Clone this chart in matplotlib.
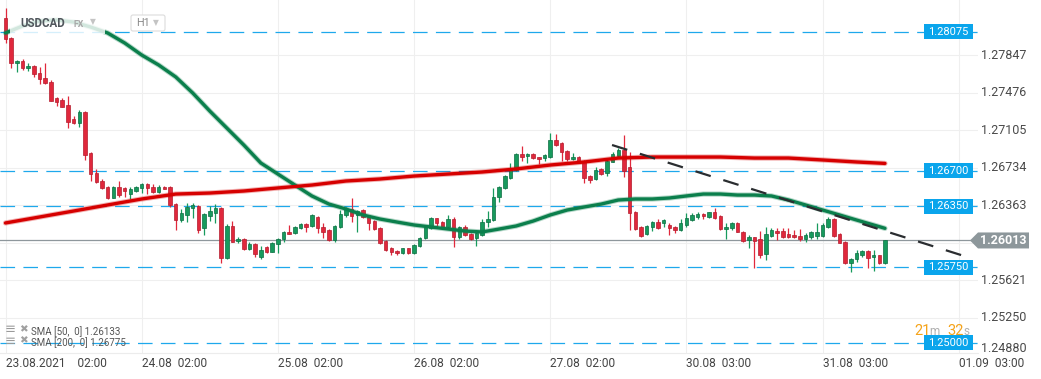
import numpy as np
import matplotlib.pyplot as plt
from matplotlib.patches import Rectangle, Polygon, FancyBboxPatch
from matplotlib.transforms import Affine2D, blended_transform_factory

plt.rcParams['font.family'] = ['Roboto', 'DejaVu Sans']
plt.rcParams['lines.scale_dashes'] = False

# hourly candles USDCAD, 23.08.2021 02:00 onwards
opens = [1.28213, 1.28015, 1.27768, 1.27788, 1.27719, 1.27738, 1.27669, 1.27620, 1.27580, 1.27422,
         1.27402, 1.27353, 1.27214, 1.27174, 1.27283, 1.26878, 1.26680, 1.26601, 1.26542, 1.26433,
         1.26542, 1.26532, 1.26472, 1.26502, 1.26532, 1.26571, 1.26542, 1.26492, 1.26542, 1.26542,
         1.26373, 1.26215, 1.26265, 1.26334, 1.26354, 1.26136, 1.26255, 1.26284, 1.26334, 1.25839,
         1.26156, 1.26008, 1.26027, 1.25928, 1.25978, 1.25849, 1.25948, 1.25899, 1.25978, 1.26027,
         1.26097, 1.26087, 1.26136, 1.26176, 1.26156, 1.26245, 1.26146, 1.26116, 1.26017, 1.26146,
         1.26265, 1.26324, 1.26265, 1.26314, 1.26245, 1.26205, 1.26136, 1.26008, 1.25938, 1.25909,
         1.25889, 1.25938, 1.25889, 1.25958, 1.26037, 1.26136, 1.26235, 1.26195, 1.26146, 1.26225,
         1.26047, 1.26146, 1.26077, 1.26037, 1.26067, 1.26195, 1.26215, 1.26443, 1.26532, 1.26631,
         1.26710, 1.26868, 1.26848, 1.26868, 1.26838, 1.26828, 1.26838, 1.27006, 1.26977, 1.26898,
         1.26818, 1.26838, 1.26789, 1.26650, 1.26621, 1.26720, 1.26680, 1.26789, 1.26848, 1.26908,
         1.26739, 1.26294, 1.26146, 1.26077, 1.26146, 1.26195, 1.26186, 1.26166, 1.26146, 1.26116,
         1.26166, 1.26215, 1.26245, 1.26275, 1.26245, 1.26294, 1.26255, 1.26126, 1.26136, 1.26186,
         1.26097, 1.26017, 1.26047, 1.26027, 1.25879, 1.26057, 1.26106, 1.26106, 1.26077, 1.26067,
         1.26057, 1.26027, 1.26047, 1.26057, 1.26057, 1.26146, 1.26225, 1.26077, 1.25998, 1.25790,
         1.25830, 1.25869, 1.25909, 1.25849, 1.25869, 1.25790]
highs = [1.28312, 1.28025, 1.27798, 1.27808, 1.27768, 1.27748, 1.27728, 1.27768, 1.27600, 1.27432,
         1.27422, 1.27442, 1.27244, 1.27303, 1.27293, 1.26888, 1.26720, 1.26621, 1.26552, 1.26547,
         1.26601, 1.26542, 1.26542, 1.26552, 1.26581, 1.26581, 1.26571, 1.26561, 1.26552, 1.26552,
         1.26383, 1.26324, 1.26383, 1.26383, 1.26364, 1.26284, 1.26354, 1.26373, 1.26344, 1.26176,
         1.26205, 1.26047, 1.26037, 1.25998, 1.25983, 1.25958, 1.25958, 1.25993, 1.26037, 1.26102,
         1.26166, 1.26156, 1.26186, 1.26181, 1.26270, 1.26255, 1.26186, 1.26126, 1.26161, 1.26314,
         1.26344, 1.26433, 1.26314, 1.26324, 1.26265, 1.26215, 1.26146, 1.26013, 1.25948, 1.25919,
         1.25943, 1.25943, 1.25978, 1.26047, 1.26156, 1.26245, 1.26240, 1.26205, 1.26265, 1.26245,
         1.26156, 1.26166, 1.26087, 1.26106, 1.26225, 1.26304, 1.26532, 1.26552, 1.26660, 1.26779,
         1.26878, 1.26947, 1.26873, 1.26878, 1.26843, 1.26868, 1.27076, 1.27066, 1.26982, 1.26903,
         1.26878, 1.26848, 1.26809, 1.26660, 1.26739, 1.26730, 1.26828, 1.26888, 1.26927, 1.27056,
         1.26888, 1.26304, 1.26156, 1.26166, 1.26205, 1.26225, 1.26225, 1.26186, 1.26156, 1.26225,
         1.26284, 1.26284, 1.26294, 1.26284, 1.26299, 1.26334, 1.26265, 1.26186, 1.26195, 1.26191,
         1.26106, 1.26067, 1.26052, 1.26106, 1.26146, 1.26136, 1.26136, 1.26136, 1.26136, 1.26116,
         1.26126, 1.26087, 1.26102, 1.26186, 1.26186, 1.26245, 1.26235, 1.26087, 1.26003, 1.25839,
         1.25919, 1.25919, 1.25914, 1.25919, 1.25874, 1.26020]
lows = [1.27966, 1.27719, 1.27679, 1.27699, 1.27689, 1.27630, 1.27560, 1.27565, 1.27388, 1.27343,
        1.27328, 1.27125, 1.27165, 1.27135, 1.26809, 1.26601, 1.26586, 1.26522, 1.26423, 1.26428,
        1.26443, 1.26443, 1.26423, 1.26497, 1.26482, 1.26472, 1.26487, 1.26487, 1.26517, 1.26344,
        1.26116, 1.26195, 1.26195, 1.26235, 1.26087, 1.26067, 1.26205, 1.26186, 1.25790, 1.25834,
        1.25993, 1.25988, 1.25919, 1.25919, 1.25849, 1.25830, 1.25889, 1.25894, 1.25889, 1.25998,
        1.26072, 1.26077, 1.26126, 1.26097, 1.26146, 1.26087, 1.26037, 1.26012, 1.25998, 1.26141,
        1.26245, 1.26195, 1.26097, 1.26235, 1.26116, 1.26116, 1.25978, 1.25909, 1.25869, 1.25869,
        1.25879, 1.25879, 1.25879, 1.25948, 1.26027, 1.26126, 1.26156, 1.26126, 1.26136, 1.25948,
        1.26027, 1.26057, 1.26017, 1.25958, 1.26057, 1.26146, 1.26205, 1.26393, 1.26522, 1.26621,
        1.26700, 1.26799, 1.26779, 1.26818, 1.26769, 1.26799, 1.26833, 1.26947, 1.26799, 1.26799,
        1.26809, 1.26779, 1.26581, 1.26581, 1.26611, 1.26660, 1.26650, 1.26784, 1.26838, 1.26641,
        1.26116, 1.26116, 1.26047, 1.26067, 1.26106, 1.26126, 1.26146, 1.26067, 1.26087, 1.26106,
        1.26146, 1.26205, 1.26225, 1.26225, 1.26240, 1.26230, 1.26116, 1.26027, 1.26116, 1.26092,
        1.25998, 1.25938, 1.25741, 1.25839, 1.25820, 1.26047, 1.26017, 1.26042, 1.26042, 1.26042,
        1.26008, 1.25998, 1.26027, 1.26027, 1.26047, 1.26141, 1.26047, 1.25983, 1.25785, 1.25701,
        1.25800, 1.25849, 1.25741, 1.25711, 1.25780, 1.25785]
closes = [1.28005, 1.27768, 1.27788, 1.27719, 1.27738, 1.27659, 1.27610, 1.27570, 1.27392, 1.27382,
          1.27333, 1.27184, 1.27174, 1.27283, 1.26858, 1.26670, 1.26591, 1.26532, 1.26433, 1.26542,
          1.26462, 1.26502, 1.26522, 1.26542, 1.26571, 1.26532, 1.26492, 1.26542, 1.26522, 1.26364,
          1.26215, 1.26284, 1.26344, 1.26364, 1.26116, 1.26275, 1.26304, 1.26334, 1.25839, 1.26156,
          1.25998, 1.26027, 1.25928, 1.25978, 1.25879, 1.25919, 1.25899, 1.25988, 1.26027, 1.26097,
          1.26077, 1.26146, 1.26176, 1.26146, 1.26265, 1.26136, 1.26097, 1.26017, 1.26156, 1.26275,
          1.26324, 1.26255, 1.26304, 1.26245, 1.26186, 1.26126, 1.25988, 1.25919, 1.25899, 1.25889,
          1.25938, 1.25889, 1.25968, 1.26037, 1.26146, 1.26235, 1.26186, 1.26146, 1.26225, 1.26047,
          1.26146, 1.26067, 1.26027, 1.26087, 1.26195, 1.26225, 1.26443, 1.26542, 1.26650, 1.26710,
          1.26868, 1.26838, 1.26868, 1.26828, 1.26818, 1.26858, 1.27006, 1.26957, 1.26888, 1.26818,
          1.26838, 1.26789, 1.26631, 1.26611, 1.26710, 1.26670, 1.26799, 1.26868, 1.26908, 1.26700,
          1.26284, 1.26126, 1.26057, 1.26156, 1.26195, 1.26136, 1.26215, 1.26136, 1.26116, 1.26186,
          1.26235, 1.26265, 1.26275, 1.26255, 1.26294, 1.26235, 1.26126, 1.26146, 1.26186, 1.26097,
          1.26008, 1.26047, 1.26008, 1.25869, 1.26077, 1.26116, 1.26087, 1.26047, 1.26047, 1.26047,
          1.26027, 1.26067, 1.26097, 1.26097, 1.26166, 1.26225, 1.26057, 1.25988, 1.25790, 1.25830,
          1.25889, 1.25909, 1.25839, 1.25869, 1.25790, 1.26013]

# moving averages at these candle positions
sma50_idx = list(range(0, 154, 3)) + [155]
sma50 = [1.28065, 1.28134, 1.28183, 1.28193, 1.28173, 1.28124, 1.28065, 1.27966, 1.27847, 1.27748,
         1.27630, 1.27471, 1.27293, 1.27125, 1.26957, 1.26779, 1.26670, 1.26561, 1.26453, 1.26373,
         1.26324, 1.26265, 1.26225, 1.26195, 1.26166, 1.26146, 1.26126, 1.26106, 1.26097, 1.26126,
         1.26156, 1.26205, 1.26265, 1.26314, 1.26344, 1.26373, 1.26413, 1.26423, 1.26423, 1.26433,
         1.26453, 1.26472, 1.26472, 1.26462, 1.26462, 1.26453, 1.26413, 1.26364, 1.26314, 1.26265,
         1.26215, 1.26166, 1.26133]
sma200_idx = list(range(0, 151, 6)) + [155]
sma200 = [1.26186, 1.26245, 1.26304, 1.26364, 1.26423, 1.26472, 1.26482, 1.26502, 1.26532, 1.26561,
          1.26601, 1.26621, 1.26650, 1.26670, 1.26690, 1.26720, 1.26759, 1.26789, 1.26828, 1.26838,
          1.26838, 1.26838, 1.26828, 1.26828, 1.26809, 1.26789, 1.26775]

levels = [1.28075, 1.26700, 1.26350, 1.25750, 1.25000]
trend_x = [106.9, 170.1]
trend_y = [1.26957, 1.25839]

ytick_vals = [1.27847, 1.27476, 1.27105, 1.26734, 1.26363, 1.25992, 1.25621, 1.25250, 1.24880]
day_idx = [0, 24, 48, 72, 96, 120, 144, 168]
day_labels = ['23.08.2021    02:00', '24.08  02:00', '25.08  02:00', '26.08  02:00',
              '27.08  02:00', '30.08  03:00', '31.08  03:00', '01.09  03:00']

W, H = 1041, 379
fig = plt.figure(figsize=(W / 100, H / 100), dpi=100)
ax = fig.add_axes([0, 26 / H, 978 / W, 353 / H])
ymin, ymax = 1.24900, 1.28391
ax.set_xlim(-0.97, 171.4)
ax.set_ylim(ymin, ymax)
ppx = (ymax - ymin) / 353.0

pix = Affine2D().scale(1.0 / W, -1.0 / H).translate(0, 1) + fig.transFigure
trans = blended_transform_factory(fig.transFigure, ax.transData)

for s in ['top', 'left', 'right']:
    ax.spines[s].set_visible(False)
ax.spines['bottom'].set_color('#ececec')
ax.set_yticks([])
ax.set_xticks(day_idx)
ax.set_xticklabels(day_labels)
for lbl in ax.get_xticklabels():
    lbl.set_ha('left')
ax.tick_params(axis='x', length=0, pad=3, labelsize=8.6, labelcolor='#444444')

last = closes[-1]

# grid
for v in ytick_vals:
    if ymin <= v <= ymax:
        ax.axhline(v, color='#efefef', lw=0.8, zorder=0)
for d in day_idx:
    ax.axvline(d, color='#efefef', lw=0.8, zorder=0)

# right price scale (the label hidden by the last-price tag is skipped)
for v in ytick_vals:
    if abs(v - last) < 10 * ppx:
        continue
    va = 'center' if v >= ymin else 'bottom'
    ax.text(981 / W, v, '%.5f' % v, transform=trans, ha='left', va=va,
            fontsize=9, color='#4a4a4a', clip_on=False)

# horizontal levels
for lvl in levels:
    ax.axhline(lvl, color='#1ea8ec', lw=0.9, dashes=(10.5, 6), zorder=1)
ax.axhline(last, color='#8e979c', lw=0.9, zorder=1.5)

# candles
idx = np.arange(len(closes))
o = np.array(opens)
c = np.array(closes)
up = c >= o
col = np.where(up, '#179a5d', '#e0283c')
edge = np.where(up, '#0c6d41', '#b31c2e')
ax.vlines(idx, lows, highs, colors=col, lw=0.9, zorder=2)
body_h = np.maximum(np.abs(c - o), ppx)
ax.bar(idx, body_h, bottom=np.minimum(o, c), width=0.62, color=col,
       edgecolor=edge, linewidth=0.5, zorder=2.2)

# SMA lines
ax.plot(sma50_idx, sma50, color='#0b7f4c', lw=3.8, alpha=0.3, zorder=3, solid_capstyle='round')
ax.plot(sma50_idx, sma50, color='#0b7f4c', lw=2.4, zorder=3.1, solid_capstyle='round')
ax.plot(sma200_idx, sma200, color='#d60000', lw=3.8, alpha=0.3, zorder=3, solid_capstyle='round')
ax.plot(sma200_idx, sma200, color='#d60000', lw=2.4, zorder=3.1, solid_capstyle='round')

# translucent panel behind the title (fades the SMA under it)
ax.add_patch(Rectangle((10, 12), 95, 22, transform=pix, fc='white', ec='none',
                       alpha=0.82, zorder=3.5, clip_on=False))

# trendline
ax.plot(trend_x, trend_y, color='#2a2d30', lw=1.6, dashes=(11.5, 9.5), zorder=5)

# level tags
for lvl in levels:
    ax.add_patch(Rectangle((924 / W, lvl - 7.5 * ppx), 49 / W, 15 * ppx, transform=trans,
                           fc='#0aa5ec', ec='none', zorder=7, clip_on=False))
    ax.text(948.5 / W, lvl, '%.5f' % lvl, transform=trans, ha='center', va='center',
            fontsize=8, color='white', zorder=8, clip_on=False)

# current price tag
ax.add_patch(Polygon([(970 / W, last), (978 / W, last + 8 * ppx), (1029 / W, last + 8 * ppx),
                      (1029 / W, last - 8 * ppx), (978 / W, last - 8 * ppx)], closed=True,
                     transform=trans, fc='#8d979b', ec='none', zorder=7, clip_on=False))
ax.text(1003.5 / W, last, '%.5f' % last, transform=trans, ha='center', va='center',
        fontsize=9, fontweight='bold', color='white', zorder=8, clip_on=False)

# header
ax.text(20, 23.5, 'USDCAD', transform=pix, fontsize=8.3, fontweight='bold', color='#50565c',
        va='center', ha='left', zorder=9, clip_on=False)
ax.text(74, 24.5, 'FX', transform=pix, fontsize=6.3, fontweight='bold', color='#a8a8a8',
        va='center', ha='left', zorder=9, clip_on=False)
ax.text(90, 21.5, '\u25bc', transform=pix, fontsize=5.5, color='#c4c4c4',
        va='center', ha='left', zorder=9, clip_on=False)
ax.add_patch(FancyBboxPatch((131, 15), 34, 16, boxstyle='round,pad=0,rounding_size=2',
                            transform=pix, fc='white', ec='#dcdcdc', lw=0.8, zorder=8.5,
                            clip_on=False))
ax.text(136, 23.5, 'H1', transform=pix, fontsize=7.8, color='#8a8a8a',
        va='center', ha='left', zorder=9, clip_on=False)
ax.text(153, 22.5, '\u25bc', transform=pix, fontsize=5.5, color='#c4c4c4',
        va='center', ha='left', zorder=9, clip_on=False)

# indicator legend
for yy, name in [(331, 'SMA [50,  0] 1.26133'), (342, 'SMA [200,  0] 1.26775')]:
    ax.text(5, yy - 1, '\u2261', transform=pix, fontsize=9.5, color='#9a9a9a',
            va='center', ha='left', zorder=9, clip_on=False)
    ax.text(19, yy - 1.5, '\u2716', transform=pix, fontsize=7.5, color='#a0a0a0',
            va='center', ha='left', zorder=9, clip_on=False)
    ax.text(31, yy + 1, name, transform=pix, fontsize=7, color='#555555',
            va='center', ha='left', zorder=9, clip_on=False)

# candle timer
for xx, txt, fs, cl in [(914, '21', 10.5, '#f5a31a'), (929, 'm', 8.5, '#b0b0b0'),
                        (947, '32', 10.5, '#f5a31a'), (964, 's', 8.5, '#b0b0b0')]:
    ax.text(xx, 335, txt, transform=pix, fontsize=fs, color=cl, va='baseline', ha='left',
            zorder=6, clip_on=False)

fig.savefig('out.png', dpi=100)
